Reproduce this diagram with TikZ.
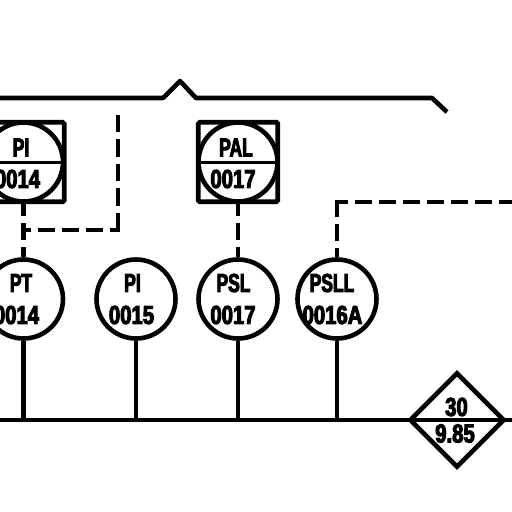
\documentclass[tikz,border=0pt]{standalone}
\usepackage{fontspec}
\setmainfont{Liberation Sans}
\newfontfamily\tagfont[UprightFont=*-Bold,FakeBold=4,FakeStretch=.78]{Liberation Sans}
\usetikzlibrary{calc}
\tikzset{
  wire/.style={line width=4.6pt,line join=round},
  sig/.style={wire,dash pattern=on 17pt off 7pt},
  inst/.style={circle,draw,line width=4.6pt,minimum size=79pt,inner sep=0pt},
  panel/.style={rectangle,draw,line width=4.6pt,rounded corners=1.5pt,minimum size=79.5pt,inner sep=0pt},
  tagtext/.style={inner sep=0pt,font=\tagfont\fontsize{26}{26}\selectfont,text=black},
  lettertext/.style={tagtext,xscale=.86}
}
\begin{document}
\begin{tikzpicture}[x=1pt,y=-1pt]
\useasboundingbox (0,0) rectangle (512,512);
\clip (0,0) rectangle (512,512);
% coordinates
\coordinate (l0) at (0,420);
\coordinate (l1) at (512,420);
\coordinate (t0) at (0,98);
\coordinate (t1) at (163,98);
\coordinate (t2) at (180,81);
\coordinate (t3) at (196,98);
\coordinate (t4) at (432,98);
\coordinate (t5) at (447,112);
\coordinate (d0) at (118,115);
\coordinate (d1) at (118,230);
\coordinate (d2) at (23,230);
\coordinate (e0) at (337,202);
\coordinate (e1) at (512,202);
% panels
\node[panel] (bpi) at (24.5,162) {};
\node[inst] (cbpi) at (23.5,162) {};
\draw[wire,line width=3pt] (cbpi.west) -- (cbpi.east);
\node[panel] (bpal) at (238,162) {};
\node[inst] (cbpal) at (238,162) {};
\draw[wire,line width=3pt] (cbpal.west) -- (cbpal.east);
% field instruments
\node[inst] (pt) at (23.5,299) {};
\node[inst] (pi) at (136,299) {};
\node[inst] (psl) at (238,299) {};
\node[inst] (psll) at (337,299) {};
% diamond
\node[draw,line width=4.6pt,shape=rectangle,minimum size=66pt,rotate=45,inner sep=0pt] (dia) at (457,420) {};
% lines
\draw[wire] (t0) -- (t1) -- (t2) -- (t3) -- (t4) -- (t5);
\draw[wire] (l0) -- (l1);
\draw[wire] (pt.south) -- (pt.south |- l0);
\draw[wire] (pi.south) -- (pi.south |- l0);
\draw[wire] (psl.south) -- (psl.south |- l0);
\draw[wire] (psll.south) -- (psll.south |- l0);
\draw[sig,dash phase=5pt] (bpi.south -| pt) -- (pt.north);
\draw[sig,dash phase=5pt] (bpal.south) -- (psl.north);
\draw[wire,dash pattern=on 17.4pt off 7pt] (d0) -- (d1);
\draw[sig,dash phase=6.7pt,shorten <=-2.3pt] (d1) -- (d2);
\draw[sig,dash phase=8pt] (psll.north) -- (e0);
\draw[sig,dash phase=3.7pt,shorten <=-2.3pt] (e0) -- (e1);
% text
\node[lettertext] (t1a) at (21,147.5) {PI};
\node[tagtext] (t1b) at (17.5,179) {0014};
\node[lettertext] (t2a) at (236,147.5) {PAL};
\node[tagtext] (t2b) at (233,179) {0017};
\node[lettertext] (t3a) at (21,283) {PT};
\node[tagtext] (t3b) at (16.5,315) {0014};
\node[lettertext] (t4a) at (132.5,283) {PI};
\node[tagtext] (t4b) at (131.5,315) {0015};
\node[lettertext] (t5a) at (233.5,283) {PSL};
\node[tagtext] (t5b) at (233,315) {0017};
\node[lettertext] (t6a) at (332,283) {PSLL};
\node[tagtext] (t6b) at (332.5,315) {0016A};
\node[tagtext] (t7a) at (456.5,407) {30};
\node[tagtext] (t7b) at (455,433.5) {9.85};
\end{tikzpicture}
\end{document}
